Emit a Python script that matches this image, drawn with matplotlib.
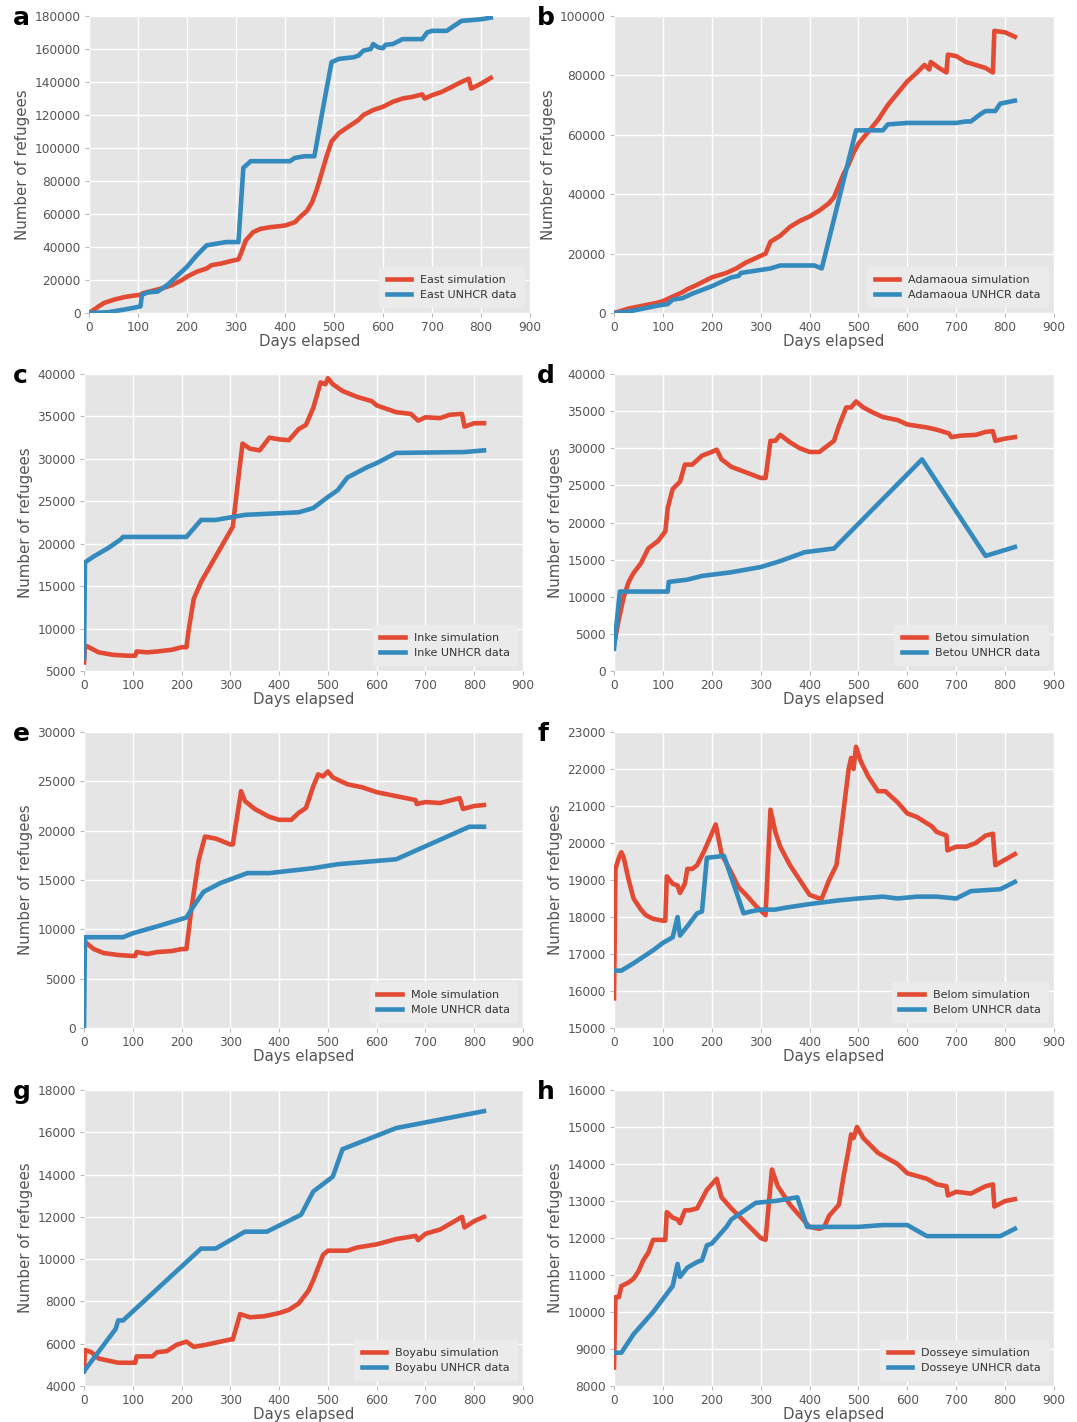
import matplotlib
matplotlib.use("Agg")
import matplotlib.pyplot as plt

# ── East ─────────────────────────────────────────────────────────────────────
east_sim_days = [0, 10, 20, 30, 50, 70, 90, 105, 110, 130, 150, 170, 190, 200, 220, 240, 250, 270, 290, 305,
                 310, 320, 335, 350, 370, 400, 420, 430, 445, 455, 465, 475, 485, 495, 510, 530, 550, 560,
                 580, 600, 620, 640, 660, 680, 685, 700, 720, 740, 760, 775, 780, 800, 820]
east_sim = [0, 2000, 4000, 6000, 8000, 9500, 10500, 11000, 12000, 13500, 15000, 17000, 20000, 22000, 25000,
            27000, 29000, 30000, 31500, 32500, 36000, 44000, 49000, 51000, 52000, 53000, 55000, 58000, 62000,
            67000, 75000, 85000, 95000, 104000, 109000, 113000, 117000, 120000, 123000, 125000, 128000,
            130000, 131000, 132500, 130000, 132000, 134000, 137000, 140000, 142000, 136000, 139000, 142500]
east_obs_days = [0, 40, 60, 80, 105, 108, 120, 140, 160, 200, 220, 240, 260, 280, 305, 315, 330, 360, 410,
                 420, 440, 460, 475, 495, 510, 540, 550, 560, 575, 580, 590, 600, 605, 620, 640, 680, 690,
                 700, 730, 760, 800, 820]
east_obs = [0, 500, 1500, 2500, 4000, 11000, 12500, 13000, 17000, 28000, 35000, 41000, 42000, 43000, 43000,
            88000, 92000, 92000, 92000, 94000, 95000, 95000, 120000, 152000, 154000, 155000, 156000, 159000,
            160000, 163000, 161000, 160500, 162500, 163000, 166000, 166000, 170000, 171000, 171000, 177000,
            178000, 179000]

# ── Adamaoua ─────────────────────────────────────────────────────────────────
adamaoua_sim_days = [0, 30, 60, 90, 100, 120, 140, 150, 170, 200, 230, 250, 270, 290, 310, 320, 340, 360, 380,
                     400, 420, 440, 450, 460, 470, 480, 490, 500, 520, 540, 560, 580, 600, 620, 635, 645,
                     648, 665, 680, 683, 700, 720, 740, 760, 775, 778, 800, 820]
adamaoua_sim = [0, 1500, 2500, 3500, 4000, 5500, 7000, 8000, 9500, 12000, 13500, 15000, 17000, 18500, 20000,
                24000, 26000, 29000, 31000, 32500, 34500, 37000, 39000, 43000, 47000, 50000, 54000, 57000,
                61000, 65000, 70000, 74000, 78000, 81000, 83500, 82000, 84500, 82500, 81000, 87000, 86500,
                84500, 83500, 82500, 81000, 95000, 94500, 93000]
adamaoua_obs_days = [0, 30, 60, 90, 110, 120, 140, 160, 200, 240, 255, 260, 280, 300, 320, 340, 380, 410, 425,
                     495, 520, 550, 560, 600, 700, 720, 730, 750, 760, 780, 790, 820]
adamaoua_obs = [0, 500, 1500, 2500, 3000, 4500, 5000, 6500, 9000, 12000, 12500, 13500, 14000, 14500, 15000,
                16000, 16000, 16000, 15000, 61500, 61500, 61500, 63500, 64000, 64000, 64500, 64500, 67000,
                68000, 68000, 70500, 71500]

# ── Inke ─────────────────────────────────────────────────────────────────────
inke_sim_days = [0, 2, 10, 30, 60, 90, 105, 108, 130, 150, 180, 200, 210, 215, 225, 240, 260, 280, 300, 305,
                 315, 325, 340, 360, 380, 400, 420, 440, 455, 470, 480, 485, 495, 500, 510, 530, 560, 590,
                 600, 640, 670, 685, 700, 730, 750, 775, 780, 800, 820]
inke_sim = [6000, 8000, 7800, 7200, 6900, 6800, 6800, 7300, 7200, 7300, 7500, 7800, 7800, 10000, 13500, 15500,
            17500, 19500, 21500, 22000, 27000, 31800, 31200, 31000, 32500, 32300, 32200, 33500, 34000, 36000,
            38000, 39000, 38800, 39500, 38800, 38000, 37300, 36800, 36300, 35500, 35300, 34500, 34900, 34800,
            35200, 35300, 33800, 34200, 34200]
inke_obs_days = [0, 2, 20, 50, 75, 80, 210, 240, 270, 310, 330, 440, 470, 500, 520, 540, 580, 600, 640, 780, 820]
inke_obs = [6500, 17800, 18500, 19500, 20500, 20800, 20800, 22800, 22800, 23200, 23400, 23700, 24200, 25500,
            26300, 27800, 29000, 29500, 30700, 30800, 31000]

# ── Betou ────────────────────────────────────────────────────────────────────
betou_sim_days = [0, 10, 20, 30, 40, 55, 70, 90, 105, 110, 120, 135, 145, 160, 180, 200, 210, 220, 240, 260,
                  280, 300, 310, 320, 330, 340, 360, 380, 400, 420, 440, 450, 460, 475, 485, 495, 510, 530,
                  550, 580, 600, 640, 660, 685, 690, 710, 740, 760, 775, 780, 800, 820]
betou_sim = [3500, 7000, 10000, 12000, 13200, 14500, 16500, 17500, 18800, 22000, 24500, 25500, 27800, 27800,
             29000, 29500, 29800, 28500, 27500, 27000, 26500, 26000, 26000, 31000, 31000, 31800, 30800, 30000,
             29500, 29500, 30500, 31000, 33000, 35500, 35500, 36300, 35500, 34800, 34200, 33800, 33200, 32800,
             32500, 32000, 31500, 31700, 31800, 32200, 32300, 31000, 31300, 31500]
betou_obs_days = [0, 12, 40, 110, 112, 150, 180, 240, 300, 340, 390, 450, 630, 760, 820]
betou_obs = [3000, 10700, 10700, 10700, 12000, 12300, 12800, 13300, 14000, 14800, 16000, 16500, 28500, 15500,
             16700]

# ── Mole ─────────────────────────────────────────────────────────────────────
mole_sim_days = [0, 20, 40, 70, 100, 105, 108, 130, 150, 180, 200, 210, 220, 235, 248, 270, 300, 305, 322, 330,
                 350, 380, 400, 425, 440, 455, 470, 480, 490, 500, 510, 540, 570, 600, 640, 660, 680, 682,
                 700, 730, 770, 777, 800, 820]
mole_sim = [8800, 8000, 7600, 7400, 7300, 7300, 7700, 7500, 7700, 7800, 8000, 8000, 12000, 17000, 19400, 19200,
            18600, 18600, 24000, 23000, 22200, 21400, 21100, 21100, 21800, 22300, 24500, 25700, 25500, 26000,
            25400, 24700, 24400, 23900, 23500, 23300, 23100, 22700, 22900, 22800, 23300, 22200, 22500, 22600]
mole_obs_days = [0, 2, 80, 100, 150, 210, 220, 245, 280, 335, 380, 470, 520, 640, 790, 820]
mole_obs = [0, 9200, 9200, 9600, 10300, 11200, 12000, 13800, 14700, 15700, 15700, 16200, 16600, 17100, 20400,
            20400]

# ── Belom ────────────────────────────────────────────────────────────────────
belom_sim_days = [0, 3, 10, 15, 20, 30, 40, 55, 65, 80, 100, 105, 108, 120, 130, 135, 145, 150, 160, 170, 185,
                  195, 208, 220, 240, 255, 270, 290, 310, 320, 330, 340, 360, 380, 400, 420, 425, 440, 455,
                  465, 480, 485, 490, 495, 505, 520, 540, 555, 580, 600, 620, 650, 660, 680, 682, 700, 720,
                  740, 760, 775, 780, 800, 820]
belom_sim = [15800, 19300, 19600, 19750, 19600, 19000, 18500, 18200, 18050, 17950, 17900, 17900, 19100, 18900,
             18850, 18650, 18900, 19300, 19300, 19400, 19800, 20100, 20500, 19700, 19200, 18800, 18600, 18300,
             18050, 20900, 20300, 19900, 19400, 19000, 18600, 18500, 18500, 19000, 19400, 20400, 22000, 22300,
             22000, 22600, 22200, 21800, 21400, 21400, 21100, 20800, 20700, 20450, 20300, 20200, 19800, 19900,
             19900, 20000, 20200, 20250, 19400, 19550, 19700]
belom_obs_days = [0, 15, 40, 80, 100, 120, 130, 135, 150, 170, 180, 190, 225, 265, 280, 300, 330, 350, 400,
                  460, 500, 550, 580, 620, 660, 700, 730, 790, 820]
belom_obs = [16550, 16550, 16750, 17100, 17300, 17450, 18000, 17500, 17750, 18100, 18150, 19600, 19650, 18100,
             18150, 18200, 18200, 18250, 18350, 18450, 18500, 18550, 18500, 18550, 18550, 18500, 18700, 18750,
             18950]

# ── Boyabu ───────────────────────────────────────────────────────────────────
boyabu_sim_days = [0, 2, 15, 30, 50, 70, 100, 105, 108, 130, 140, 150, 170, 190, 210, 225, 250, 280, 300, 305,
                   320, 340, 370, 400, 420, 440, 460, 470, 480, 490, 500, 510, 540, 560, 600, 640, 680, 685,
                   700, 730, 760, 775, 780, 800, 820]
boyabu_sim = [4700, 5700, 5600, 5300, 5200, 5100, 5100, 5100, 5400, 5400, 5400, 5600, 5650, 5950, 6100, 5850,
              5950, 6100, 6200, 6200, 7400, 7250, 7300, 7450, 7600, 7900, 8500, 9000, 9600, 10200, 10400,
              10400, 10400, 10550, 10700, 10950, 11100, 10900, 11200, 11400, 11800, 12000, 11500, 11800, 12000]
boyabu_obs_days = [0, 65, 70, 80, 240, 270, 330, 375, 445, 470, 510, 530, 640, 820]
boyabu_obs = [4700, 6700, 7100, 7100, 10500, 10500, 11300, 11300, 12100, 13200, 13900, 15200, 16200, 17000]

# ── Dosseye ──────────────────────────────────────────────────────────────────
dosseye_sim_days = [0, 3, 10, 15, 30, 40, 50, 60, 70, 80, 100, 105, 108, 120, 130, 135, 145, 155, 170, 190,
                    210, 220, 240, 270, 300, 310, 323, 335, 360, 380, 400, 420, 430, 440, 460, 470, 480, 485,
                    490, 497, 510, 540, 560, 580, 600, 640, 660, 680, 683, 700, 730, 760, 775, 778, 800, 820]
dosseye_sim = [8500, 10400, 10400, 10700, 10800, 10900, 11100, 11400, 11600, 11950, 11950, 11950, 12700, 12550,
               12500, 12400, 12750, 12750, 12800, 13300, 13600, 13100, 12800, 12400, 12000, 11950, 13850,
               13400, 12900, 12600, 12300, 12250, 12300, 12600, 12900, 13700, 14400, 14800, 14700, 15000,
               14700, 14300, 14150, 14000, 13750, 13600, 13450, 13400, 13150, 13250, 13200, 13400, 13450,
               12850, 13000, 13050]
dosseye_obs_days = [0, 15, 40, 80, 120, 130, 135, 150, 170, 180, 190, 200, 230, 240, 290, 330, 375, 395, 450,
                    500, 550, 600, 640, 700, 790, 820]
dosseye_obs = [8900, 8900, 9400, 10000, 10700, 11300, 10950, 11200, 11350, 11400, 11800, 11850, 12300, 12500,
               12950, 13000, 13100, 12300, 12300, 12300, 12350, 12350, 12050, 12050, 12050, 12250]

panels = [
    ("a", "East", east_sim_days, east_sim, east_obs_days, east_obs, (0, 180000), 20000),
    ("b", "Adamaoua", adamaoua_sim_days, adamaoua_sim, adamaoua_obs_days, adamaoua_obs, (0, 100000), 20000),
    ("c", "Inke", inke_sim_days, inke_sim, inke_obs_days, inke_obs, (5000, 40000), 5000),
    ("d", "Betou", betou_sim_days, betou_sim, betou_obs_days, betou_obs, (0, 40000), 5000),
    ("e", "Mole", mole_sim_days, mole_sim, mole_obs_days, mole_obs, (0, 30000), 5000),
    ("f", "Belom", belom_sim_days, belom_sim, belom_obs_days, belom_obs, (15000, 23000), 1000),
    ("g", "Boyabu", boyabu_sim_days, boyabu_sim, boyabu_obs_days, boyabu_obs, (4000, 18000), 2000),
    ("h", "Dosseye", dosseye_sim_days, dosseye_sim, dosseye_obs_days, dosseye_obs, (8000, 16000), 1000),
]

W, H = 1077, 1422
# axes boxes in pixels: left, top, right, bottom
boxes = [
    (89, 16, 530, 313), (614, 16, 1054, 313),
    (84, 374, 523, 671), (614, 374, 1054, 671),
    (84, 732, 523, 1028), (614, 732, 1054, 1028),
    (84, 1090, 523, 1386), (614, 1090, 1054, 1386),
]
# panel letter x positions (pixels)
letter_x = [13, 537, 13, 537, 13, 537, 13, 537]

RED = "#E24A33"
BLUE = "#348ABD"
GREY = "#555555"

fig = plt.figure(figsize=(W / 100, H / 100), dpi=100)

for (letter, name, sd, sv, od, ov, ylim, ystep), (l, t, r, b), lx in zip(panels, boxes, letter_x):
    ax = fig.add_axes([l / W, 1 - b / H, (r - l) / W, (b - t) / H])
    ax.set_facecolor("#E5E5E5")
    for s in ax.spines.values():
        s.set_visible(False)
    ax.grid(True, color="white", lw=1)
    ax.set_axisbelow(True)

    ax.plot(sd, sv, color=RED, lw=3.3, label=f"{name} simulation")
    ax.plot(od, ov, color=BLUE, lw=3.3, label=f"{name} UNHCR data")

    ax.set_xlim(0, 900)
    ax.set_xticks(range(0, 901, 100))
    ax.set_ylim(*ylim)
    ax.set_yticks(range(ylim[0], ylim[1] + 1, ystep))
    ax.tick_params(labelsize=8.7, labelcolor=GREY, color="#BBBBBB", length=3, width=0.8, pad=3)
    ax.set_xlabel("Days elapsed", fontsize=10.8, color=GREY, labelpad=0)
    ax.set_ylabel("Number of refugees", fontsize=10.8, color=GREY, labelpad=3)

    leg = ax.legend(loc="lower right", fontsize=8, handlelength=2.2, frameon=True,
                    borderpad=0.7, labelspacing=0.4)
    leg.get_frame().set_facecolor("#EBEBEB")
    leg.get_frame().set_edgecolor("#EBEBEB")
    leg.get_frame().set_alpha(1)
    for txt in leg.get_texts():
        txt.set_color("#333333")

    fig.text(lx / W, 1 - (t + 2) / H, letter,
             fontsize=18, fontweight="bold", ha="left", va="center")

fig.savefig("out.png", dpi=100)
